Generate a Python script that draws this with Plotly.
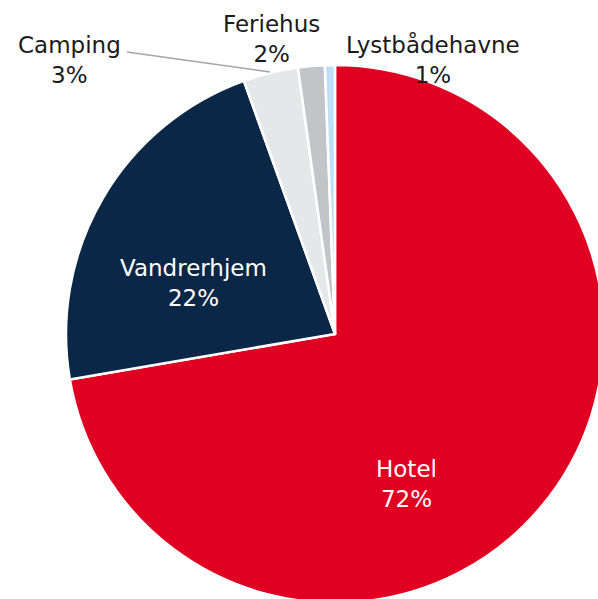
import plotly.graph_objects as go

# data
categories = ["Hotel", "Vandrerhjem", "Camping", "Feriehus", "Lystbådehavne"]
values = [72.3, 22.2, 3.3, 1.6, 0.6]
colors = ["#E00022", "#0B2747", "#E6E7E9", "#C2C4C8", "#BDE0F6"]

# figure is a bit bigger than the window so the pie gets cut at right/bottom
W, H = 604, 603
R = 269
CX, CY = 335, 334


def px(x):
    return x / W


def py(y):
    return 1 - y / H


total = sum(values)
pct = [f"{round(v / total * 100):.0f}%" for v in values]

fig = go.Figure(go.Pie(
    labels=categories,
    values=values,
    sort=False,
    direction="clockwise",
    rotation=0,
    marker=dict(colors=colors, line=dict(color="white", width=2.5)),
    textinfo="none",
    hoverinfo="label+percent",
    domain=dict(x=[px(CX - R), px(CX + R)], y=[py(CY + R), py(CY - R)]),
    showlegend=False,
))

# label positions (pixel centres) and colours
label_pos = [(406, 484), (193, 283), (69, 60), (271, 39), (433, 59)]
label_col = ["white", "white", "#1a1a1a", "#1a1a1a", "#1a1a1a"]

for name, p, (x, y), c in zip(categories, pct, label_pos, label_col):
    fig.add_annotation(
        x=px(x), y=py(y), xref="paper", yref="paper",
        text=f"{name}<br>{p}", showarrow=False,
        font=dict(family="DejaVu Sans", size=23, color=c),
        xanchor="center", yanchor="middle", align="center",
    )

# leader line for Camping
fig.add_shape(type="line", xref="paper", yref="paper",
              x0=px(127), y0=py(52), x1=px(270), y1=py(72),
              line=dict(color="#A6A6A6", width=1.5))

fig.update_layout(
    width=W, height=H,
    margin=dict(l=0, r=0, t=0, b=0),
    paper_bgcolor="white",
    plot_bgcolor="white",
)

fig.write_html(
    "out.html",
    config={"displayModeBar": False},
    post_script="document.body.style.margin='0';document.body.style.overflow='hidden';",
)
